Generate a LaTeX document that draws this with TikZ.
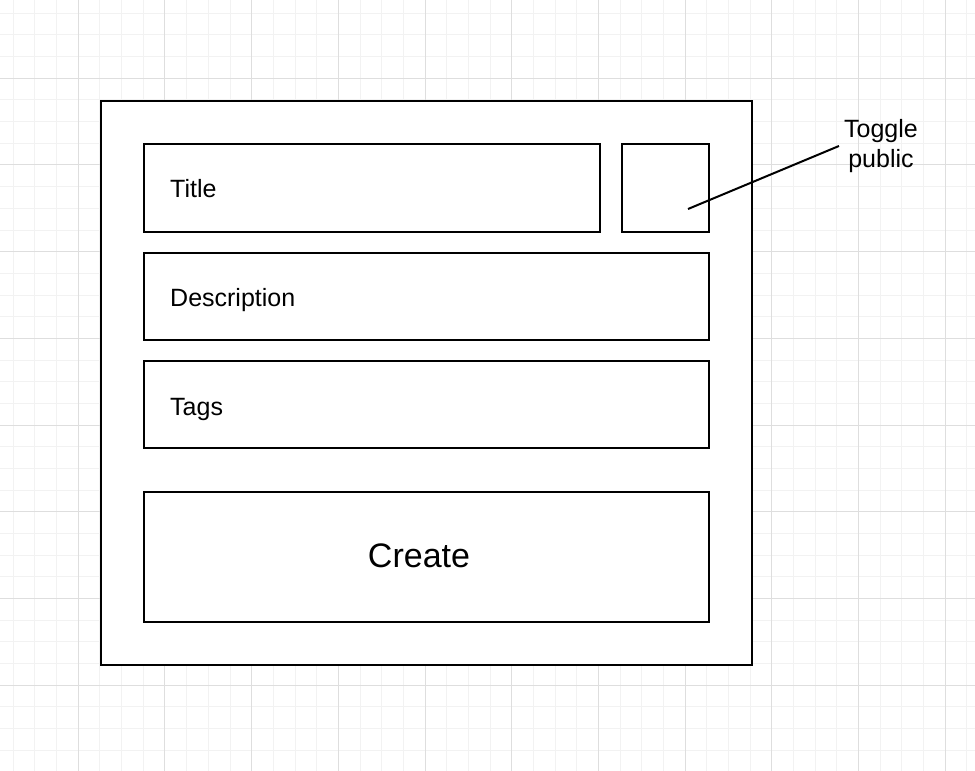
\documentclass[tikz,border=0pt]{standalone}
\usepackage{fontspec}
\setmainfont{Liberation Sans}
\begin{document}
\begin{tikzpicture}[x=1pt,y=-1pt,
  box/.style={draw=black, line width=2pt, fill=white, rectangle, outer sep=0pt, inner sep=0pt, anchor=north west},
  fieldtext/.style={font=\fontsize{25}{30}\selectfont, anchor=base west, inner sep=0pt},
  minorgrid/.style={draw=black!5, line width=1pt},
  majorgrid/.style={draw=black!13, line width=1pt}]
  % canvas
  \useasboundingbox (0,0) rectangle (975,771);
  \fill[white] (0,0) rectangle (975,771);
  % background grid
  \foreach \i in {-3,...,41} {
    \draw[minorgrid] ({78.33+21.667*\i},0) -- ({78.33+21.667*\i},771);
    \draw[minorgrid] (0,{78.33+21.667*\i}) -- (975,{78.33+21.667*\i});
  }
  \foreach \i in {0,...,10} {
    \draw[majorgrid] ({78.33+86.667*\i},0) -- ({78.33+86.667*\i},771);
    \draw[majorgrid] (0,{78.33+86.667*\i}) -- (975,{78.33+86.667*\i});
  }
  % form frame
  \node[box, minimum width=651, minimum height=564] (frame) at (101,101) {};
  % fields
  \node[box, minimum width=456, minimum height=88] (title) at (144,144) {};
  \node[box, minimum width=87, minimum height=88] (toggle) at (622,144) {};
  \node[box, minimum width=565, minimum height=87] (desc) at (144,253) {};
  \node[box, minimum width=565, minimum height=87] (tags) at (144,361) {};
  \node[box, minimum width=565, minimum height=130] (create) at (144,492) {};
  % field labels
  \node[fieldtext] (titletext) at (170,197) {Title};
  \node[fieldtext] (desctext) at (170,306) {Description};
  \node[fieldtext] (tagstext) at (170,415) {Tags};
  \node[font=\fontsize{34}{40}\selectfont, anchor=base, inner sep=0pt] (createtext) at (419,567) {Create};
  % annotation
  \node[font=\fontsize{25}{30}\selectfont, align=center, inner sep=5pt] (toggletext) at (881,146) {Toggle\\public};
  \coordinate (togglept) at (688,209);
  \draw[line width=2pt] (togglept) -- (toggletext.west);
\end{tikzpicture}
\end{document}
